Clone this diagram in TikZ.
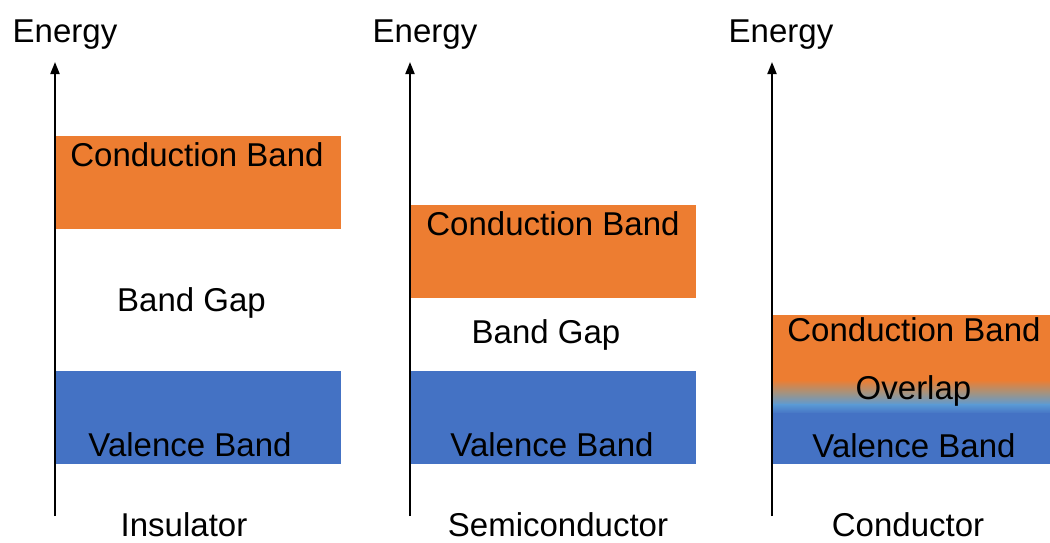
\documentclass[tikz,border=0pt]{standalone}
\usepackage{fontspec}
\setmainfont{Liberation Sans}
\usetikzlibrary{arrows.meta}
\definecolor{cband}{HTML}{ED7D31}
\definecolor{vband}{HTML}{4472C4}
\definecolor{midband}{HTML}{5B9BD5}
\definecolor{greyband}{HTML}{A5937F}
\begin{document}
\begin{tikzpicture}[x=1pt,y=-1pt,
  lbl/.style={anchor=base,inner sep=0pt,font=\fontsize{33}{38}\selectfont},
  axis/.style={line width=1.8pt,-{Triangle[length=12pt,width=9pt]}},
  cb/.style={fill=cband,draw=none},
  vb/.style={fill=vband,draw=none}]
\useasboundingbox (0,0) rectangle (1050,542);
% panel 1
\fill[cb] (55,136) rectangle (341,229);
\fill[vb] (55,371) rectangle (341,464);
\coordinate (a1b) at (55,516);
\coordinate (a1t) at (55,62);
\draw[axis] (a1b) -- (a1t);
\node[lbl] (e1) at (65,42) {Energy};
\node[lbl] (c1) at (197,166) {Conduction Band};
\node[lbl] (g1) at (191.5,311) {Band Gap};
\node[lbl] (v1) at (190,456) {Valence Band};
\node[lbl] (n1) at (184,536.5) {Insulator};
% panel 2
\fill[cb] (410,205) rectangle (696,298);
\fill[vb] (410,371) rectangle (696,464);
\coordinate (a2b) at (410,516);
\coordinate (a2t) at (410,62);
\draw[axis] (a2b) -- (a2t);
\node[lbl] (e2) at (425,42) {Energy};
\node[lbl] (c2) at (553,235) {Conduction Band};
\node[lbl] (g2) at (546,343) {Band Gap};
\node[lbl] (v2) at (552,456) {Valence Band};
\node[lbl] (n2) at (558,536.5) {Semiconductor};
% panel 3
\fill[cb] (772,315) rectangle (1050,381);
\shade[top color=cband,bottom color=midband,middle color=greyband,shading angle=0] (772,380) rectangle (1050,405);
\shade[top color=midband,bottom color=vband] (772,404) rectangle (1050,414);
\fill[vb] (772,413) rectangle (1050,464);
\coordinate (a3b) at (772,516);
\coordinate (a3t) at (772,62);
\draw[axis] (a3b) -- (a3t);
\node[lbl] (e3) at (781,42) {Energy};
\node[lbl] (c3) at (914,341) {Conduction Band};
\node[lbl] (o3) at (913.5,399) {Overlap};
\node[lbl] (v3) at (914,457) {Valence Band};
\node[lbl] (n3) at (908,536.5) {Conductor};
\end{tikzpicture}
\end{document}
